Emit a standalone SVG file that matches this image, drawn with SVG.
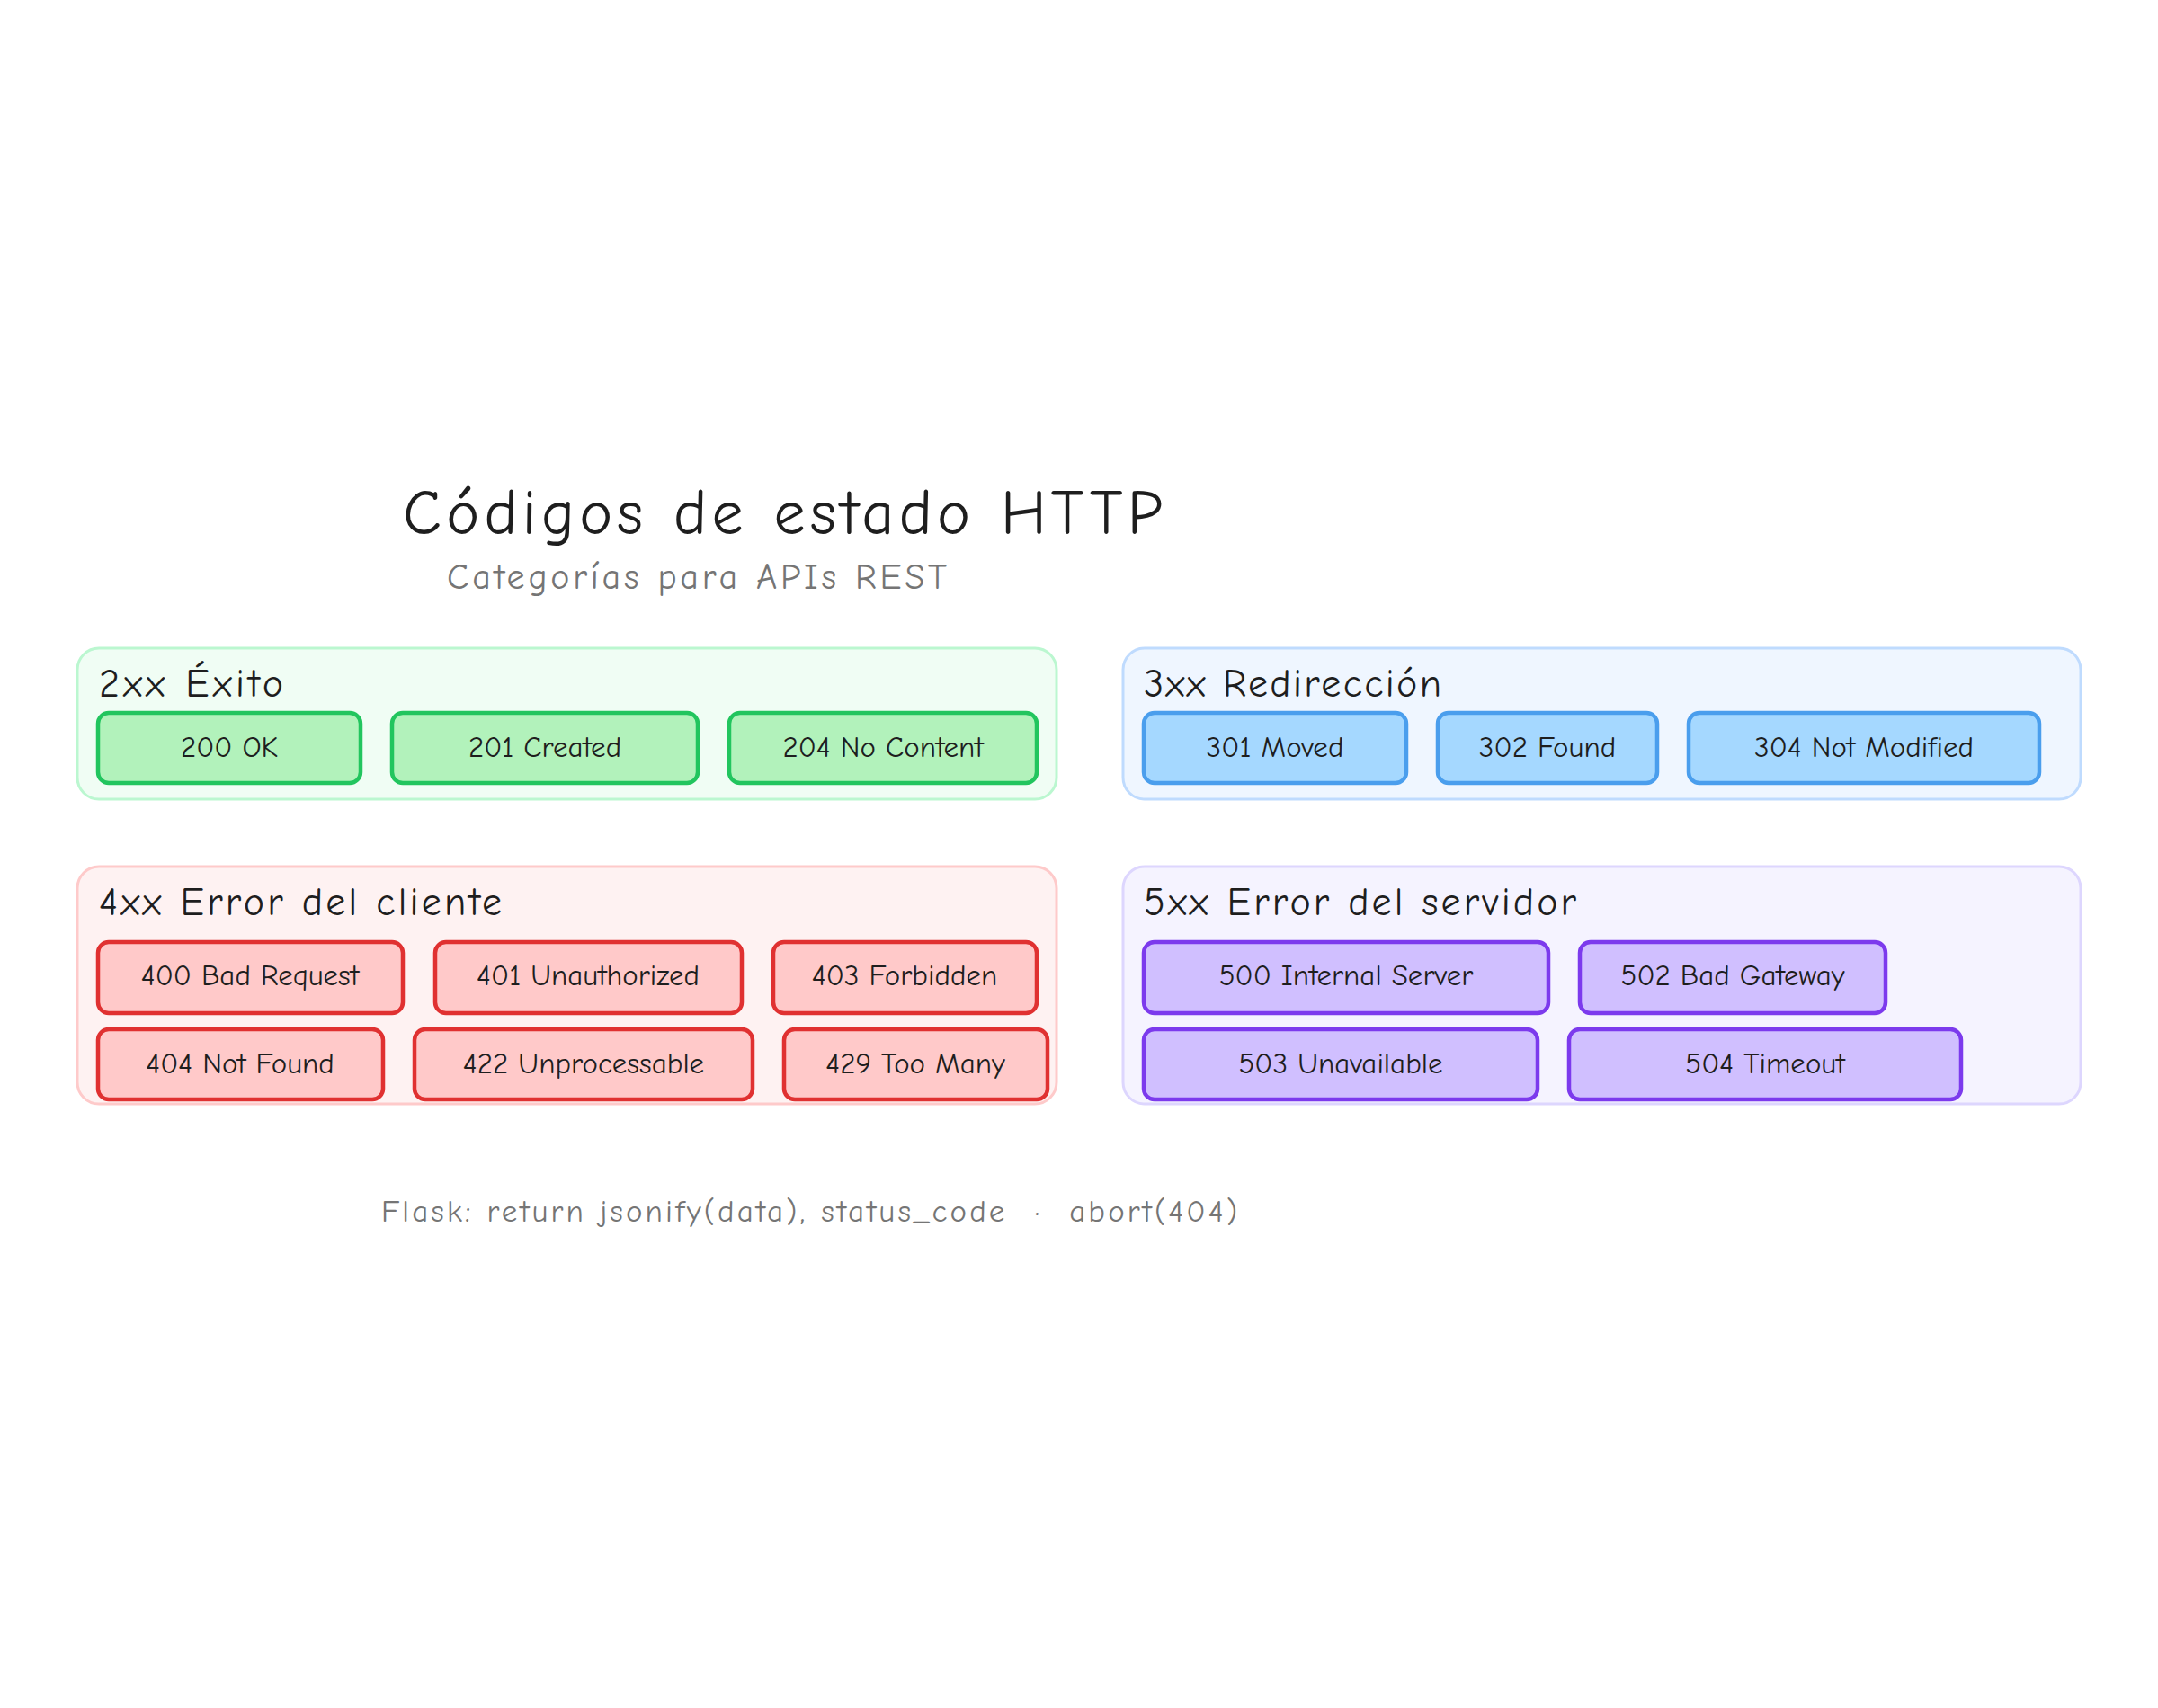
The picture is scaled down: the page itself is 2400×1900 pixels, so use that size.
<svg xmlns="http://www.w3.org/2000/svg" width="2400" height="1900" viewBox="0 0 2400 1900">
<style>
text{font-family:"Comic Neue","Lato","Liberation Sans",sans-serif}
.t{font-size:70px;fill:#1e1e1e}
.st{font-size:40px;fill:#757575}
.gl{font-size:44px;fill:#1e1e1e}
.n{font-size:33px;fill:#1e1e1e;text-anchor:middle}
.ft{font-size:35px;fill:#757575}
.g2{fill:#f0fdf4;stroke:#bbf7d0;stroke-width:3}
.g3{fill:#eff6ff;stroke:#bfdbfe;stroke-width:3}
.g4{fill:#fef2f2;stroke:#fecaca;stroke-width:3}
.g5{fill:#f5f3ff;stroke:#ddd6fe;stroke-width:3}
.n2{fill:#b2f2bb;stroke:#22c55e;stroke-width:4.5}
.n3{fill:#a5d8ff;stroke:#4a9eed;stroke-width:4.5}
.n4{fill:#ffc9c9;stroke:#e03131;stroke-width:4.5}
.n5{fill:#d0bfff;stroke:#7c3aed;stroke-width:4.5}
</style>
<rect width="2400" height="1900" fill="#ffffff"/>
<text class="t" x="448" y="594" textLength="845" lengthAdjust="spacing">Códigos de estado HTTP</text>
<text class="st" x="497" y="655" textLength="556" lengthAdjust="spacing">Categorías para APIs REST</text>

<g id="group-2xx">
<rect class="g2" x="86" y="721" width="1089" height="168" rx="24"/>
<text class="gl" x="110" y="775" textLength="205" lengthAdjust="spacing">2xx Éxito</text>
</g>
<g id="n200"><rect class="n2" x="109" y="793" width="292" height="78" rx="12"/><text class="n" x="255" y="842">200 OK</text></g>
<g id="n201"><rect class="n2" x="436" y="793" width="340" height="78" rx="12"/><text class="n" x="606" y="842">201 Created</text></g>
<g id="n204"><rect class="n2" x="811" y="793" width="342" height="78" rx="12"/><text class="n" x="982" y="842">204 No Content</text></g>

<g id="group-3xx">
<rect class="g3" x="1249" y="721" width="1065" height="168" rx="24"/>
<text class="gl" x="1272" y="775" textLength="331" lengthAdjust="spacing">3xx Redirección</text>
</g>
<g id="n301"><rect class="n3" x="1272" y="793" width="292" height="78" rx="12"/><text class="n" x="1418" y="842">301 Moved</text></g>
<g id="n302"><rect class="n3" x="1599" y="793" width="244" height="78" rx="12"/><text class="n" x="1721" y="842">302 Found</text></g>
<g id="n304"><rect class="n3" x="1878" y="793" width="390" height="78" rx="12"/><text class="n" x="2073" y="842">304 Not Modified</text></g>

<g id="group-4xx">
<rect class="g4" x="86" y="964" width="1089" height="264" rx="24"/>
<text class="gl" x="110" y="1018" textLength="448" lengthAdjust="spacing">4xx Error del cliente</text>
</g>
<g id="n400"><rect class="n4" x="109" y="1048" width="339" height="79" rx="12"/><text class="n" x="278" y="1096">400 Bad Request</text></g>
<g id="n401"><rect class="n4" x="484" y="1048" width="341" height="79" rx="12"/><text class="n" x="654" y="1096">401 Unauthorized</text></g>
<g id="n403"><rect class="n4" x="860" y="1048" width="293" height="79" rx="12"/><text class="n" x="1006" y="1096">403 Forbidden</text></g>
<g id="n404"><rect class="n4" x="109" y="1145" width="317" height="78" rx="12"/><text class="n" x="267" y="1194">404 Not Found</text></g>
<g id="n422"><rect class="n4" x="461" y="1145" width="376" height="78" rx="12"/><text class="n" x="649" y="1194">422 Unprocessable</text></g>
<g id="n429"><rect class="n4" x="872" y="1145" width="293" height="78" rx="12"/><text class="n" x="1018" y="1194">429 Too Many</text></g>

<g id="group-5xx">
<rect class="g5" x="1249" y="964" width="1065" height="264" rx="24"/>
<text class="gl" x="1272" y="1018" textLength="481" lengthAdjust="spacing">5xx Error del servidor</text>
</g>
<g id="n500"><rect class="n5" x="1272" y="1048" width="450" height="79" rx="12"/><text class="n" x="1497" y="1096">500 Internal Server</text></g>
<g id="n502"><rect class="n5" x="1757" y="1048" width="340" height="79" rx="12"/><text class="n" x="1927" y="1096">502 Bad Gateway</text></g>
<g id="n503"><rect class="n5" x="1272" y="1145" width="438" height="78" rx="12"/><text class="n" x="1491" y="1194">503 Unavailable</text></g>
<g id="n504"><rect class="n5" x="1745" y="1145" width="436" height="78" rx="12"/><text class="n" x="1963" y="1194">504 Timeout</text></g>

<g id="connectors"></g>
<text class="ft" x="424" y="1359" textLength="952" lengthAdjust="spacing" xml:space="preserve">Flask: return jsonify(data), status_code  ·  abort(404)</text>
</svg>
